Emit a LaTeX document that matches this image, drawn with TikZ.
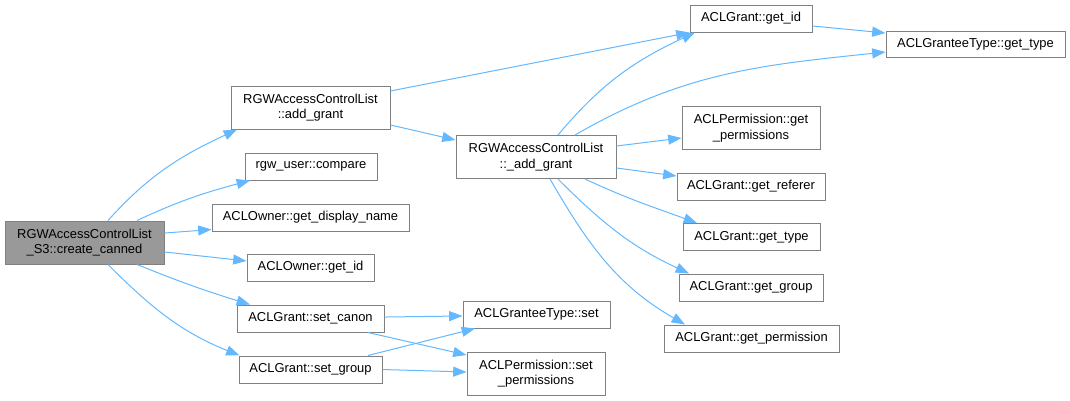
\documentclass[tikz,border=0pt]{standalone}
\usepackage{fontspec}
\setmainfont{Liberation Sans}
\usetikzlibrary{arrows.meta}
\definecolor{bordeGris}{RGB}{128,128,128}
\definecolor{rellenoRaiz}{RGB}{153,153,153}
\definecolor{flechaAzul}{RGB}{99,184,255}
\tikzset{
  func/.style={rectangle, draw=bordeGris, fill=white, line width=0.75pt, inner sep=0pt, minimum height=20.25pt, align=center, font=\fontsize{9.7pt}{11.7pt}\selectfont},
  func2/.style={func, minimum height=32.25pt},
  raiz/.style={func2, fill=rellenoRaiz},
  call/.style={draw=flechaAzul, line width=0.75pt, -{Triangle[length=10pt, width=7.5pt]}}
}

\begin{document}
\begin{tikzpicture}[x=0.75pt, y=0.75pt]
            \useasboundingbox (0,0) rectangle (1070,-400);

            % Nodo raiz
            \node[raiz, minimum width=119.25pt] (root) at (84.5,-242.5) {RGWAccessControlList\\\_S3::create\_canned};

            % Segunda columna
            \node[func2, minimum width=119.25pt] (addg) at (310.5,-107.5) {RGWAccessControlList\\::add\_grant};
            \node[func, minimum width=99pt] (cmp) at (311,-166.5) {rgw\_user::compare};
            \node[func, minimum width=147.75pt] (dname) at (310.5,-217.5) {ACLOwner::get\_display\_name};
            \node[func, minimum width=95.25pt] (ownid) at (310.5,-267.5) {ACLOwner::get\_id};
            \node[func, minimum width=110.25pt] (canon) at (310.5,-318.5) {ACLGrant::set\_canon};
            \node[func, minimum width=107.25pt] (sgroup) at (310.5,-369.5) {ACLGrant::set\_group};

            % Tercera columna
            \node[func2, minimum width=120pt] (uaddg) at (536,-157) {RGWAccessControlList\\::\_add\_grant};
            \node[func, minimum width=110.25pt] (gtset) at (536.5,-314.5) {ACLGranteeType::set};
            \node[func2, minimum width=103.5pt] (sperms) at (536,-373.5) {ACLPermission::set\\\_permissions};

            % Cuarta columna
            \node[func, minimum width=91.5pt] (gid) at (751,-18.5) {ACLGrant::get\_id};
            \node[func2, minimum width=103.5pt] (gperms) at (751,-128) {ACLPermission::get\\\_permissions};
            \node[func, minimum width=111pt] (gref) at (751,-186.5) {ACLGrant::get\_referer};
            \node[func, minimum width=102.75pt] (gtype) at (751.5,-237) {ACLGrant::get\_type};
            \node[func, minimum width=108pt] (ggroup) at (751,-287.5) {ACLGrant::get\_group};
            \node[func, minimum width=131.25pt] (gperm) at (751.5,-338.5) {ACLGrant::get\_permission};

            % Quinta columna
            \node[func, minimum width=134.25pt, minimum height=19.5pt] (gttype) at (975.5,-44) {ACLGranteeType::get\_type};

            % Llamadas desde la raiz
            \draw[call] ([xshift=17.6pt]root.north) to[out=48, in=205] ([xshift=-55.1pt]addg.south);
            \draw[call] ([xshift=39.4pt]root.north) to[out=25, in=195] ([xshift=-45.75pt]cmp.south);
            \draw[call] ([yshift=7.1pt]root.east) -- ([yshift=-9pt]dname.west);
            \draw[call] ([yshift=-7.1pt]root.east) -- ([yshift=4.9pt]ownid.west);
            \draw[call] ([xshift=39.4pt]root.south) to[out=-22, in=163] ([xshift=-45.4pt]canon.north);
            \draw[call] ([xshift=17.6pt]root.south) to[out=-45, in=158] ([xshift=0.75pt]sgroup.north west);

            % Llamadas desde add_grant
            \draw[call] ([yshift=12.4pt]addg.east) -- (gid.south west);
            \draw[call] ([yshift=-13.1pt]addg.east) -- ([yshift=12.75pt]uaddg.west);

            % Llamadas desde _add_grant
            \draw[call] ([xshift=16.5pt]uaddg.north) to[out=50, in=205] ([xshift=-42pt]gid.south);
            \draw[call] ([xshift=29.25pt]uaddg.north) to[out=30, in=186] ([yshift=-6pt]gttype.west);
            \draw[call] ([yshift=8.25pt]uaddg.east) -- ([yshift=-7.5pt]gperms.west);
            \draw[call] ([yshift=-8.25pt]uaddg.east) -- ([yshift=7.9pt]gref.west);
            \draw[call] ([xshift=36.75pt]uaddg.south) to[out=-25, in=160] ([xshift=-40.9pt]gtype.north);
            \draw[call] ([xshift=16.5pt]uaddg.south) to[out=-45, in=155] ([xshift=-46.5pt]ggroup.north);
            \draw[call] ([xshift=10.5pt]uaddg.south) to[out=-60, in=150] ([xshift=-49.9pt]gperm.north);

            % Otras llamadas
            \draw[call] ([yshift=-5.6pt]gid.east) -- ([yshift=8.25pt]gttype.west);
            \draw[call] ([yshift=1.1pt]canon.east) -- ([yshift=-1.1pt]gtset.west);
            \draw[call] ([xshift=43.1pt]canon.south) -- ([yshift=13.9pt]sperms.west);
            \draw[call] ([xshift=43.1pt]sgroup.north) -- ([xshift=-46.1pt]gtset.south);
            \draw[call] (sgroup.east) -- ([yshift=1.1pt]sperms.west);
        \end{tikzpicture}
\end{document}
